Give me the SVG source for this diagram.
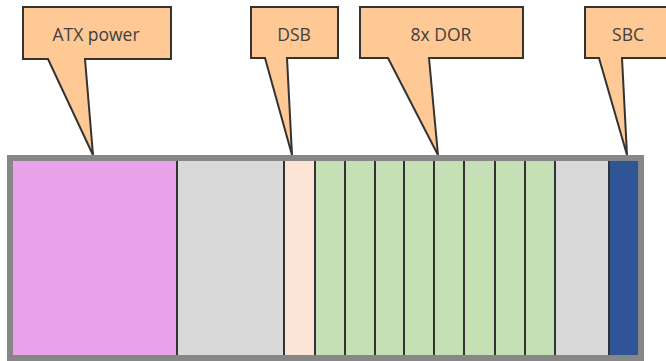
<svg xmlns="http://www.w3.org/2000/svg" width="666" height="361" viewBox="0 0 666 361">
<style>
.callout{fill:#FFC996;stroke:#333333;stroke-width:2;stroke-linejoin:miter}
.lbl{font-family:"Open Sans","Noto Sans",sans-serif;font-size:17.5px;fill:#404040;text-anchor:middle}
.div{stroke:#333333;stroke-width:2}
.green{fill:#C5E0B4}
</style>
<rect width="666" height="361" fill="#FFFFFF"/>
<g id="slots">
<rect x="13" y="161" width="164" height="194" fill="#EAA2EA"/>
<rect x="177" y="161" width="107" height="194" fill="#D9D9D9"/>
<rect x="284" y="161" width="31" height="194" fill="#FBE3D5"/>
<rect class="green" x="315" y="161" width="240" height="194"/>
<rect x="555" y="161" width="54" height="194" fill="#D9D9D9"/>
<rect x="609" y="161" width="29" height="194" fill="#2F5597"/>
</g>
<g id="dividers">
<line class="div" x1="177" y1="161" x2="177" y2="355"/>
<line class="div" x1="284" y1="161" x2="284" y2="355"/>
<line class="div" x1="315" y1="161" x2="315" y2="355"/>
<line class="div" x1="345" y1="161" x2="345" y2="355"/>
<line class="div" x1="375" y1="161" x2="375" y2="355"/>
<line class="div" x1="404" y1="161" x2="404" y2="355"/>
<line class="div" x1="434" y1="161" x2="434" y2="355"/>
<line class="div" x1="464" y1="161" x2="464" y2="355"/>
<line class="div" x1="495" y1="161" x2="495" y2="355"/>
<line class="div" x1="525" y1="161" x2="525" y2="355"/>
<line class="div" x1="555" y1="161" x2="555" y2="355"/>
<line class="div" x1="609" y1="161" x2="609" y2="355"/>
</g>
<g id="callout-atx">
<path class="callout" d="M23,7 H171 V59 H85 L93,155 L48,59 H23 Z"/>
<text class="lbl" x="96" y="41">ATX power</text>
</g>
<g id="callout-dsb">
<path class="callout" d="M251,7 H338 V58 H287 L292,155 L265,58 H251 Z"/>
<text class="lbl" x="294" y="41">DSB</text>
</g>
<g id="callout-dor">
<path class="callout" d="M360,7 H523 V58 H429 L438,155 L388,58 H360 Z"/>
<text class="lbl" x="441" y="41">8x DOR</text>
</g>
<g id="callout-sbc">
<path class="callout" d="M585,7 H672 V58 H622 L627,155 L599,58 H585 Z"/>
<text class="lbl" x="628" y="41">SBC</text>
</g>
<g id="frame">
<rect x="10" y="158" width="631" height="200" fill="none" stroke="#878787" stroke-width="6"/>
</g>
</svg>
